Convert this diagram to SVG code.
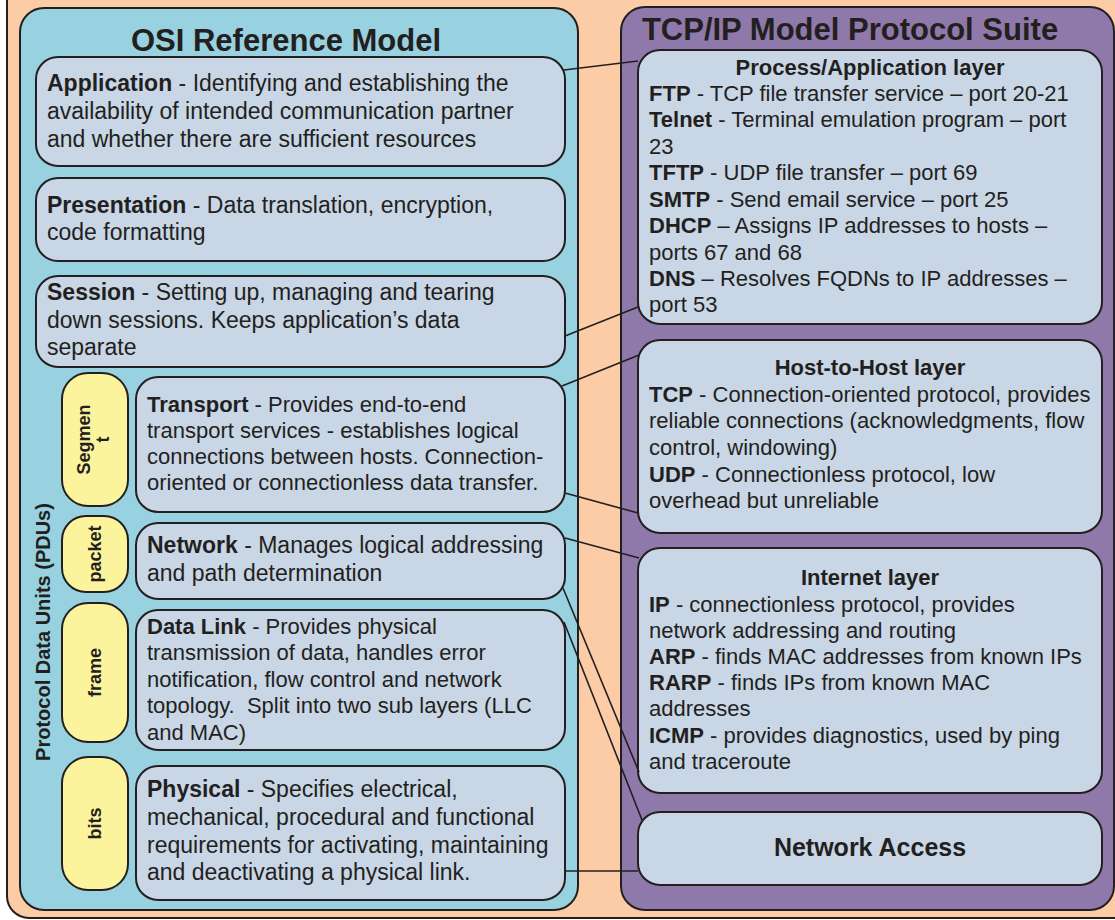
<svg xmlns="http://www.w3.org/2000/svg" width="1115" height="920" viewBox="0 0 1115 920">
<style>
text{font-family:"Liberation Sans",Arial,sans-serif;fill:#231F20}
.b{font-weight:bold}
.box{fill:#C8D6E6;stroke:#231F20;stroke-width:2}
.pill{fill:#FBF49C;stroke:#231F20;stroke-width:2}
.t23{font-size:23px}
.t22{font-size:22px}
.pt{font-size:18px;font-weight:bold;text-anchor:middle}
.hdr{font-size:22px;font-weight:bold;text-anchor:middle}
.conn line{stroke:#231F20;stroke-width:1.6}
</style>
<rect x="7" y="-20" width="1140" height="938" rx="22" fill="#FBCCA6" stroke="#231F20" stroke-width="2"/>
<g id="osi">
<rect x="20" y="8" width="558" height="902" rx="24" fill="#98D1DF" stroke="#231F20" stroke-width="2"/>
<text x="286" y="51" font-size="31" class="b" text-anchor="middle">OSI Reference Model</text>
<text class="b" font-size="20" transform="translate(50,632) rotate(-90)" text-anchor="middle" y="0">Protocol Data Units (PDUs)</text>
</g>
<g id="tcpip">
<rect x="621" y="7" width="493" height="903" rx="24" fill="#8F79AA" stroke="#231F20" stroke-width="2"/>
<text x="850" y="40" font-size="31" class="b" text-anchor="middle">TCP/IP Model Protocol Suite</text>
</g>
<g id="application">
<rect class="box" x="36" y="57" width="529" height="109" rx="22"/>
<text class="t23" x="47" y="91"><tspan class="b">Application</tspan> - Identifying and establishing the</text>
<text class="t23" x="47" y="119">availability of intended communication partner</text>
<text class="t23" x="47" y="147">and whether there are sufficient resources</text>
</g>
<g id="presentation">
<rect class="box" x="36" y="178" width="529" height="83" rx="22"/>
<text class="t23" x="47" y="213"><tspan class="b">Presentation</tspan> - Data translation, encryption,</text>
<text class="t23" x="47" y="240">code formatting</text>
</g>
<g id="session">
<rect class="box" x="36" y="276" width="529" height="91" rx="22"/>
<text class="t23" x="47" y="300"><tspan class="b">Session</tspan> - Setting up, managing and tearing</text>
<text class="t23" x="47" y="328">down sessions. Keeps application’s data</text>
<text class="t23" x="47" y="355">separate</text>
</g>
<g id="pdu-segment">
<rect class="pill" x="62" y="373" width="66" height="133" rx="26"/>
<text class="pt" transform="translate(95,439.5) rotate(-90)" y="-5">Segmen</text>
<text class="pt" transform="translate(95,439.5) rotate(-90)" y="14">t</text>
</g>
<g id="transport">
<rect class="box" x="136" y="377" width="429" height="135" rx="22"/>
<text class="t22" x="147" y="412"><tspan class="b">Transport</tspan> - Provides end-to-end</text>
<text class="t22" x="147" y="438">transport services - establishes logical</text>
<text class="t22" x="147" y="464">connections between hosts. Connection-</text>
<text class="t22" x="147" y="490">oriented or connectionless data transfer.</text>
</g>
<g id="pdu-packet">
<rect class="pill" x="62" y="516" width="66" height="76" rx="24"/>
<text class="pt" transform="translate(95,554) rotate(-90)" y="6">packet</text>
</g>
<g id="network">
<rect class="box" x="136" y="523" width="429" height="76" rx="22"/>
<text class="t23" x="147" y="553"><tspan class="b">Network</tspan> - Manages logical addressing</text>
<text class="t23" x="147" y="581">and path determination</text>
</g>
<g id="pdu-frame">
<rect class="pill" x="62" y="603" width="66" height="139" rx="26"/>
<text class="pt" transform="translate(95,672.5) rotate(-90)" y="6">frame</text>
</g>
<g id="datalink">
<rect class="box" x="136" y="610" width="429" height="140" rx="22"/>
<text class="t22" x="147" y="634"><tspan class="b">Data Link</tspan> - Provides physical</text>
<text class="t22" x="147" y="660">transmission of data, handles error</text>
<text class="t22" x="147" y="687">notification, flow control and network</text>
<text class="t22" x="147" y="713" xml:space="preserve">topology.  Split into two sub layers (LLC</text>
<text class="t22" x="147" y="740">and MAC)</text>
</g>
<g id="pdu-bits">
<rect class="pill" x="62" y="757" width="66" height="133" rx="26"/>
<text class="pt" transform="translate(95,823.5) rotate(-90)" y="6">bits</text>
</g>
<g id="physical">
<rect class="box" x="136" y="766" width="429" height="134" rx="22"/>
<text class="t23" x="147" y="797"><tspan class="b">Physical</tspan> - Specifies electrical,</text>
<text class="t23" x="147" y="825">mechanical, procedural and functional</text>
<text class="t23" x="147" y="853">requirements for activating, maintaining</text>
<text class="t23" x="147" y="880">and deactivating a physical link.</text>
</g>
<g id="process-application">
<rect class="box" x="638" y="50" width="464" height="274" rx="22"/>
<text class="hdr" x="870" y="75">Process/Application layer</text>
<text class="t22" x="649" y="101"><tspan class="b">FTP</tspan> - TCP file transfer service – port 20-21</text>
<text class="t22" x="649" y="127"><tspan class="b">Telnet</tspan> - Terminal emulation program – port</text>
<text class="t22" x="649" y="154">23</text>
<text class="t22" x="649" y="180"><tspan class="b">TFTP</tspan> - UDP file transfer – port 69</text>
<text class="t22" x="649" y="207"><tspan class="b">SMTP</tspan> - Send email service – port 25</text>
<text class="t22" x="649" y="233"><tspan class="b">DHCP</tspan> – Assigns IP addresses to hosts –</text>
<text class="t22" x="649" y="260">ports 67 and 68</text>
<text class="t22" x="649" y="286"><tspan class="b">DNS</tspan> – Resolves FQDNs to IP addresses –</text>
<text class="t22" x="649" y="312">port 53</text>
</g>
<g id="host-to-host">
<rect class="box" x="638" y="340" width="464" height="193" rx="22"/>
<text class="hdr" x="870" y="375">Host-to-Host layer</text>
<text class="t22" x="649" y="402"><tspan class="b">TCP</tspan> - Connection-oriented protocol, provides</text>
<text class="t22" x="649" y="428">reliable connections (acknowledgments, flow</text>
<text class="t22" x="649" y="455">control, windowing)</text>
<text class="t22" x="649" y="482"><tspan class="b">UDP</tspan> - Connectionless protocol, low</text>
<text class="t22" x="649" y="508">overhead but unreliable</text>
</g>
<g id="internet">
<rect class="box" x="638" y="548" width="464" height="245" rx="22"/>
<text class="hdr" x="870" y="585">Internet layer</text>
<text class="t22" x="649" y="612"><tspan class="b">IP</tspan> - connectionless protocol, provides</text>
<text class="t22" x="649" y="638">network addressing and routing</text>
<text class="t22" x="649" y="664"><tspan class="b">ARP</tspan> - finds MAC addresses from known IPs</text>
<text class="t22" x="649" y="690"><tspan class="b">RARP</tspan> - finds IPs from known MAC</text>
<text class="t22" x="649" y="716">addresses</text>
<text class="t22" x="649" y="743"><tspan class="b">ICMP</tspan> - provides diagnostics, used by ping</text>
<text class="t22" x="649" y="769">and traceroute</text>
</g>
<g id="network-access">
<rect class="box" x="638" y="812" width="464" height="73" rx="22"/>
<text x="870" y="856" font-size="25" class="b" text-anchor="middle">Network Access</text>
</g>
<g id="connectors" class="conn">
<line x1="564" y1="70" x2="638" y2="61"/>
<line x1="565" y1="336" x2="638" y2="307"/>
<line x1="562" y1="386" x2="639" y2="355"/>
<line x1="565" y1="493" x2="638" y2="513"/>
<line x1="565" y1="538" x2="639" y2="558"/>
<line x1="563" y1="588" x2="639" y2="772"/>
<line x1="564" y1="622" x2="642" y2="820"/>
<line x1="565" y1="871" x2="638" y2="871"/>
</g>
</svg>
